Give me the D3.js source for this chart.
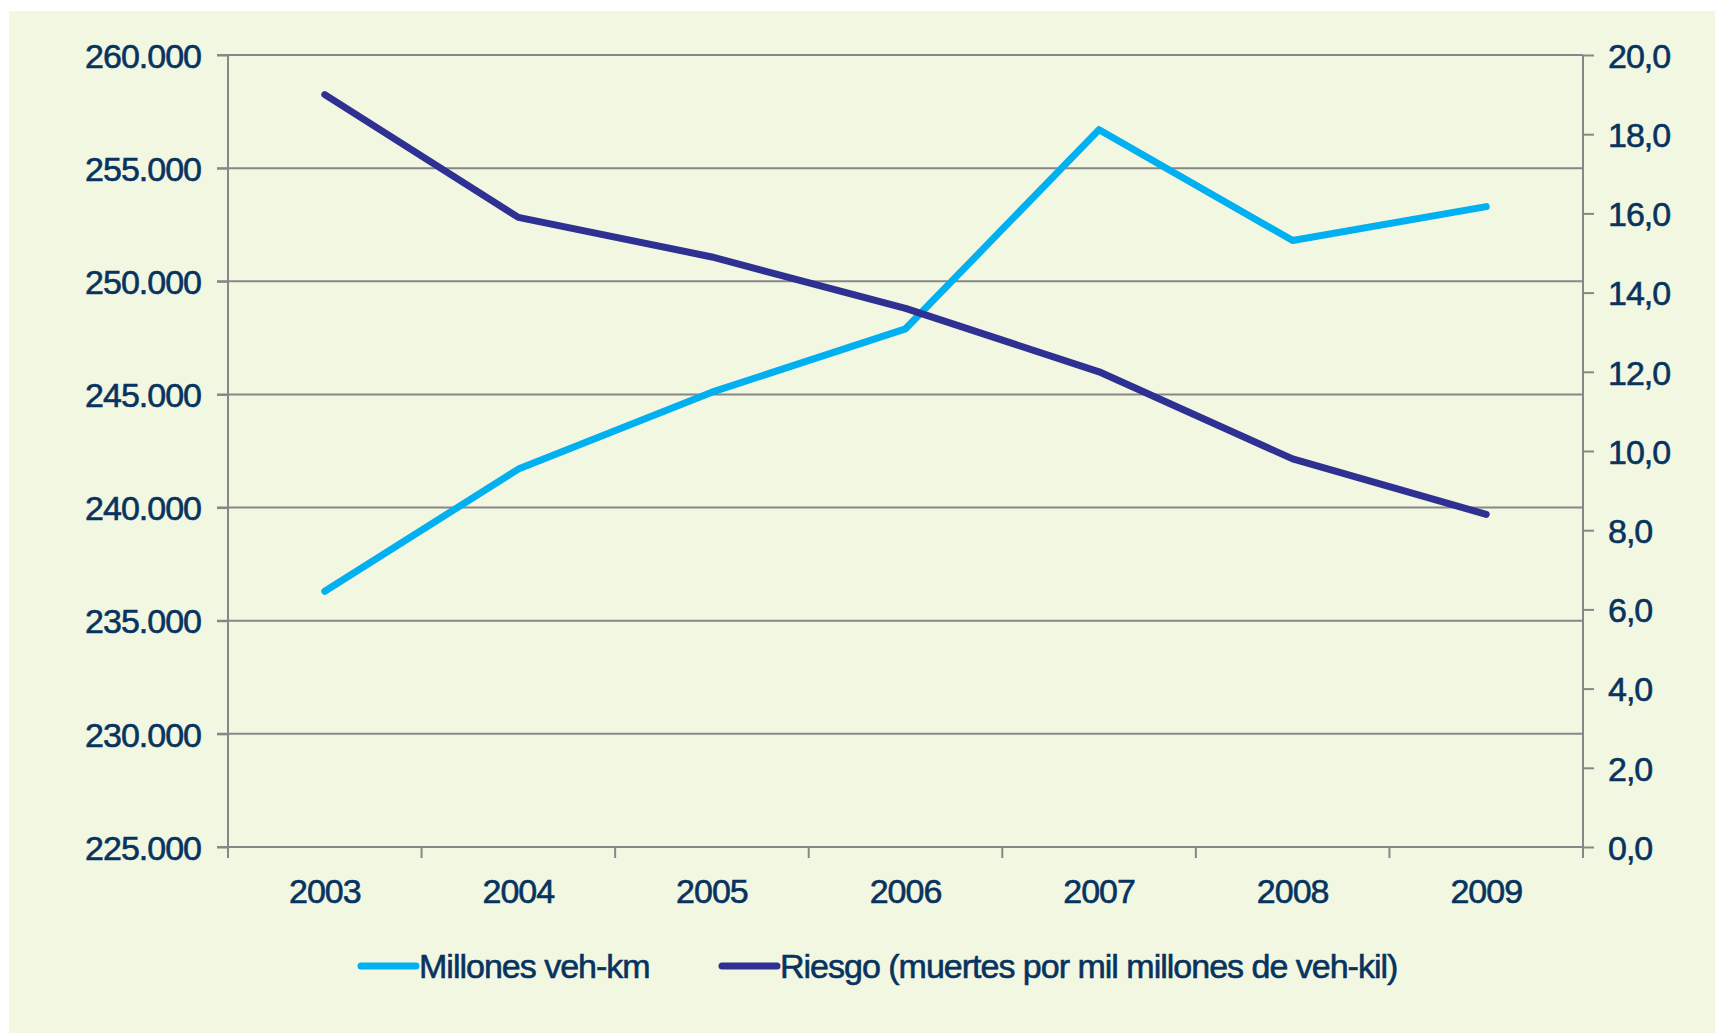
<!DOCTYPE html>
<html>
<head>
<meta charset="utf-8">
<script src="https://cdn.jsdelivr.net/npm/d3@7"></script>
<style>
  html, body { margin: 0; padding: 0; background: #ffffff; }
  svg { display: block; }
  text { font-family: "Liberation Sans", Arial, sans-serif; fill: #07335F; stroke: #07335F; stroke-width: 0.6px; }
</style>
</head>
<body>
<svg id="chart" width="1715" height="1033"></svg>
<script>
// ---- data ----
const years = ["2003", "2004", "2005", "2006", "2007", "2008", "2009"];
const millonesVehKm = [236300, 241700, 245100, 247900, 256700, 251800, 253300];
const riesgo = [19.0, 15.9, 14.9, 13.6, 12.0, 9.8, 8.4];
const leftTicks = [225000, 230000, 235000, 240000, 245000, 250000, 255000, 260000];
const rightTicks = [0, 2, 4, 6, 8, 10, 12, 14, 16, 18, 20];
const seriesNames = ["Millones veh-km", "Riesgo (muertes por mil millones de veh-kil)"];
const seriesColors = ["#00B0F0", "#2E3092"];

// ---- layout ----
const W = 1715, H = 1033;
const plot = { left: 228, right: 1583, top: 55, bottom: 847 };
const tickLen = 11;
const gridColor = "#878787";

const locale = d3.formatLocale({ decimal: ",", thousands: ".", grouping: [3], currency: ["", "€"] });
const fmtRight = locale.format(".1f");

const svg = d3.select("#chart");
svg.append("rect").attr("x", 9).attr("y", 11).attr("width", W - 9).attr("height", H - 11).attr("fill", "#F2F7E2");

const x = d3.scaleBand().domain(years).range([plot.left, plot.right]).padding(0);
const yL = d3.scaleLinear().domain([225000, 260000]).range([plot.bottom, plot.top]);
const yR = d3.scaleLinear().domain([0, 20]).range([plot.bottom, plot.top]);

// gridlines
svg.append("g").selectAll("line").data(leftTicks).join("line")
  .attr("x1", plot.left - tickLen).attr("x2", plot.right)
  .attr("y1", d => yL(d)).attr("y2", d => yL(d))
  .attr("stroke", gridColor).attr("stroke-width", 2);

// left axis
const gL = svg.append("g").attr("transform", `translate(${plot.left},0)`)
  .call(d3.axisLeft(yL).tickValues(leftTicks).tickSize(tickLen).tickPadding(16)
    .tickFormat(d => locale.format(",")(d)));
// right axis
const gR = svg.append("g").attr("transform", `translate(${plot.right},0)`)
  .call(d3.axisRight(yR).tickValues(rightTicks).tickSize(tickLen).tickPadding(14)
    .tickFormat(d => fmtRight(d)));
[gL, gR].forEach(g => {
  g.select(".domain").remove();
  g.selectAll(".tick line").attr("stroke", gridColor).attr("stroke-width", 2);
  g.selectAll(".tick text").attr("font-size", 34).attr("letter-spacing", "-1px").attr("dy", "0.36em");
});

// vertical axis lines
svg.append("g").selectAll("line").data([plot.left, plot.right]).join("line")
  .attr("x1", d => d).attr("x2", d => d)
  .attr("y1", plot.top).attr("y2", plot.bottom + tickLen)
  .attr("stroke", gridColor).attr("stroke-width", 2);

// bottom axis
const gB = svg.append("g").attr("transform", `translate(0,${plot.bottom})`)
  .call(d3.axisBottom(x).tickSize(0).tickPadding(56));
gB.select(".domain").remove();
gB.selectAll(".tick text").attr("font-size", 34).attr("letter-spacing", "-1px").attr("dy", "0");
svg.append("line").attr("x1", plot.left).attr("x2", plot.right)
  .attr("y1", plot.bottom).attr("y2", plot.bottom).attr("stroke", gridColor).attr("stroke-width", 2);
const bounds = years.map(d => x(d)).concat([x(years[years.length - 1]) + x.bandwidth()]);
svg.append("g").selectAll("line").data(bounds).join("line")
  .attr("x1", d => d).attr("x2", d => d)
  .attr("y1", plot.bottom).attr("y2", plot.bottom + tickLen)
  .attr("stroke", gridColor).attr("stroke-width", 2);

// lines
const cx = d => x(d) + x.bandwidth() / 2;
const lineL = d3.line().x((d, i) => cx(years[i])).y(d => yL(d));
const lineR = d3.line().x((d, i) => cx(years[i])).y(d => yR(d));
svg.append("path").datum(millonesVehKm).attr("d", lineL)
  .attr("fill", "none").attr("stroke", seriesColors[0]).attr("stroke-width", 7)
  .attr("stroke-linecap", "round").attr("stroke-linejoin", "round");
svg.append("path").datum(riesgo).attr("d", lineR)
  .attr("fill", "none").attr("stroke", seriesColors[1]).attr("stroke-width", 7)
  .attr("stroke-linecap", "round").attr("stroke-linejoin", "round");

// legend
const legendY = 966;
const legendX = [361, 722];
const lg = svg.append("g");
seriesNames.forEach((name, i) => {
  lg.append("line").attr("x1", legendX[i]).attr("x2", legendX[i] + 55)
    .attr("y1", legendY).attr("y2", legendY)
    .attr("stroke", seriesColors[i]).attr("stroke-width", 7).attr("stroke-linecap", "round");
  lg.append("text").attr("x", legendX[i] + 58).attr("y", legendY).attr("dy", "0.36em")
    .attr("font-size", 34).attr("letter-spacing", "-1px").text(name);
});
</script>
</body>
</html>
